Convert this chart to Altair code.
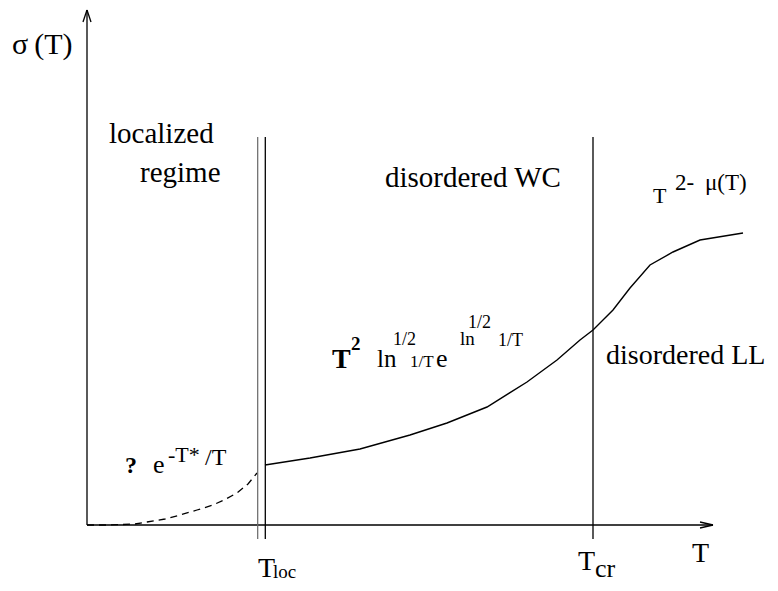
import altair as alt
import pandas as pd

# ---- data (schematic sigma(T) curve, arbitrary units) ----
dash_T = [0.00, 0.23, 0.48, 0.60, 0.78, 0.93, 1.10, 1.26, 1.39, 1.50, 1.61, 1.70]
dash_sigma = [0.00, 0.00, 0.01, 0.03, 0.06, 0.10, 0.15, 0.20, 0.26, 0.32, 0.41, 0.52]

solid_T = [1.78, 2.23, 2.73, 3.23, 3.60, 4.00, 4.40, 4.70, 4.93, 5.06, 5.26, 5.43,
           5.63, 5.86, 6.13, 6.56]
solid_sigma = [0.60, 0.67, 0.76, 0.90, 1.02, 1.18, 1.43, 1.65, 1.85, 1.95, 2.15, 2.37,
               2.60, 2.73, 2.85, 2.92]

# characteristic temperatures
T_loc_a = 1.707
T_loc_b = 1.783
T_cr = 5.06

# axis extents
T_max = 6.26
sigma_max = 5.15

FONT = "Liberation Serif"
XDOM = [-0.79, 6.83]
YDOM = [-0.58, 5.17]

xs = alt.Scale(domain=XDOM, nice=False, zero=False)
ys = alt.Scale(domain=YDOM, nice=False, zero=False)

dash_df = pd.DataFrame({"T": dash_T, "sigma": dash_sigma})
solid_df = pd.DataFrame({"T": solid_T, "sigma": solid_sigma})

dashed = alt.Chart(dash_df).mark_line(color="black", strokeWidth=1.3, strokeDash=[7, 5]).encode(
    x=alt.X("T:Q", scale=xs, axis=None),
    y=alt.Y("sigma:Q", scale=ys, axis=None),
)
solid = alt.Chart(solid_df).mark_line(color="black", strokeWidth=1.4).encode(
    x=alt.X("T:Q", scale=xs, axis=None),
    y=alt.Y("sigma:Q", scale=ys, axis=None),
)

# line segments: axes, arrowheads, vertical markers
seg = pd.DataFrame({
    "x1": [0, 0, 0, 0, T_max, T_max, T_loc_b, T_cr],
    "y1": [0, 0, sigma_max, sigma_max, 0, 0, 3.88, 3.88],
    "x2": [0, T_max, -0.04, 0.04, T_max - 0.13, T_max - 0.13, T_loc_b, T_cr],
    "y2": [sigma_max, 0, sigma_max - 0.12, sigma_max - 0.12, 0.03, -0.03, -0.14, -0.14],
})
rules = alt.Chart(seg).mark_rule(color="black", strokeWidth=1.3).encode(
    x=alt.X("x1:Q", scale=xs, axis=None),
    y=alt.Y("y1:Q", scale=ys, axis=None),
    x2="x2:Q",
    y2="y2:Q",
)
seg_gray = pd.DataFrame({"x1": [T_loc_a], "y1": [3.88], "x2": [T_loc_a], "y2": [-0.14]})
rule_gray = alt.Chart(seg_gray).mark_rule(color="#666666", strokeWidth=1.2).encode(
    x=alt.X("x1:Q", scale=xs, axis=None),
    y=alt.Y("y1:Q", scale=ys, axis=None),
    x2="x2:Q",
    y2="y2:Q",
)


def label(text, T, s, size, bold=False):
    df = pd.DataFrame({"T": [T], "sigma": [s], "t": [text]})
    props = dict(font=FONT, fontSize=size, align="left", baseline="alphabetic", color="black")
    if bold:
        props["fontWeight"] = "bold"
    return alt.Chart(df).mark_text(**props).encode(
        x=alt.X("T:Q", scale=xs, axis=None),
        y=alt.Y("sigma:Q", scale=ys, axis=None),
        text="t:N",
    )


labels = [
    label("σ\u2009(T)", -0.75, 4.71, 30),
    label("localized", 0.22, 3.82, 29),
    label("regime", 0.53, 3.43, 29),
    label("disordered WC", 2.98, 3.38, 29),
    label("T", 5.66, 3.22, 22),
    label("2-", 5.88, 3.35, 23),
    label("μ(T)", 6.18, 3.35, 23),
    label("disordered LL", 5.19, 1.61, 28),
    label("T", 2.45, 1.57, 28, bold=True),
    label("2", 2.64, 1.75, 19, bold=True),
    label("ln", 2.90, 1.58, 25),
    label("1/2", 3.06, 1.80, 18),
    label("1/T", 3.23, 1.58, 17),
    label("e", 3.49, 1.58, 26),
    label("ln", 3.73, 1.80, 19),
    label("1/2", 3.81, 1.97, 18),
    label("1/T", 4.11, 1.79, 18),
    label("?", 0.38, 0.52, 24, bold=True),
    label("e", 0.66, 0.52, 26),
    label("-T*", 0.81, 0.63, 22),
    label("/T", 1.18, 0.60, 24),
    label("T", 1.71, -0.52, 28),
    label("loc", 1.86, -0.53, 19),
    label("T", 4.91, -0.45, 28),
    label("cr", 5.08, -0.52, 26),
    label("T", 6.05, -0.37, 28),
]

chart = alt.layer(dashed, solid, rules, rule_gray, *labels).properties(
    width=762, height=575,
    padding=0,
    autosize=alt.AutoSizeParams(type="none"),
    background="white",
).configure_view(stroke=None).configure_text(font=FONT)

chart.save("out.html", embed_options={"renderer": "svg", "actions": False})
